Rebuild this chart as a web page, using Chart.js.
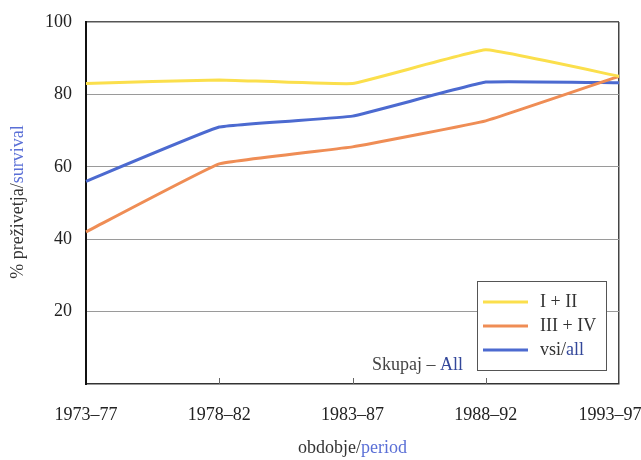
<!DOCTYPE html>
<html>
<head>
<meta charset="utf-8">
<script src="https://cdn.jsdelivr.net/npm/chart.js@4"></script>
<style>
  html, body { margin: 0; padding: 0; background: #fff; }
  #wrap { width: 641px; height: 460px; }
</style>
</head>
<body>
<div id="wrap"><canvas id="survivalChart" width="641" height="460"></canvas></div>
<script>
// podatki
const periods = ['1973–77', '1978–82', '1983–87', '1988–92', '1993–97'];
const stageEarly = [83, 84, 83, 92.3, 85];       // I + II
const stageLate = [42, 60.8, 65.5, 72.7, 85];    // III + IV
const allStages = [56, 71, 74, 83.4, 83.2];      // vsi/all
const yTicks = [20, 40, 60, 80, 100];

const FONT = '"Liberation Serif", "DejaVu Serif", serif';
const BLUE_TXT = '#5a6fd6';

// naslovi osi in napis "Skupaj – All"
const textPlugin = {
    id: 'texts',
    afterDraw(chart) {
        const ctx = chart.ctx;
        const area = chart.chartArea;
        ctx.save();
        ctx.font = '18px ' + FONT;
        ctx.textBaseline = 'middle';

        // x naslov
        const a = 'obdobje/', b = 'period';
        const wa = ctx.measureText(a).width, wb = ctx.measureText(b).width;
        let x = (area.left + area.right) / 2 - (wa + wb) / 2;
        ctx.textAlign = 'left';
        ctx.fillStyle = '#333';
        ctx.fillText(a, x, 448);
        ctx.fillStyle = BLUE_TXT;
        ctx.fillText(b, x + wa, 448);

        // y naslov
        ctx.save();
        ctx.translate(18, 202);
        ctx.rotate(-Math.PI / 2);
        const c = '% preživetja/', d = 'survival';
        const wc = ctx.measureText(c).width, wd = ctx.measureText(d).width;
        x = -(wc + wd) / 2;
        ctx.fillStyle = '#333';
        ctx.fillText(c, x, 0);
        ctx.fillStyle = BLUE_TXT;
        ctx.fillText(d, x + wc, 0);
        ctx.restore();

        // Skupaj – All
        ctx.textAlign = 'right';
        ctx.fillStyle = '#33479a';
        ctx.fillText('All', 463, 365);
        const wAll = ctx.measureText('All').width;
        ctx.fillStyle = '#444';
        ctx.fillText('Skupaj – ', 463 - wAll, 365);

        // male zareze na x osi (navznoter)
        const xs = chart.scales.x;
        ctx.strokeStyle = '#666';
        ctx.lineWidth = 1;
        for (let i = 1; i < periods.length - 1; i++) {
            const px = Math.round(xs.getPixelForTick(i)) + 0.5;
            ctx.beginPath();
            ctx.moveTo(px, area.bottom);
            ctx.lineTo(px, area.bottom - 6);
            ctx.stroke();
        }
        ctx.restore();
    }
};

// legenda znotraj grafa
const legendPlugin = {
    id: 'boxLegend',
    afterDraw(chart) {
        const ctx = chart.ctx;
        ctx.save();
        ctx.fillStyle = '#fff';
        ctx.fillRect(477, 281, 129, 89);
        ctx.strokeStyle = '#555';
        ctx.lineWidth = 1;
        ctx.strokeRect(477.5, 281.5, 129, 89);
        ctx.font = '18px ' + FONT;
        ctx.textBaseline = 'middle';
        ctx.textAlign = 'left';
        chart.data.datasets.forEach((ds, i) => {
            const y = 302 + i * 24;
            ctx.strokeStyle = ds.borderColor;
            ctx.lineWidth = 3;
            ctx.beginPath();
            ctx.moveTo(483, y);
            ctx.lineTo(528, y);
            ctx.stroke();
            const parts = ds.label.split('/');
            ctx.fillStyle = '#333';
            if (parts.length > 1) {
                const first = parts[0] + '/';
                ctx.fillText(first, 540, y);
                ctx.fillStyle = '#33479a';
                ctx.fillText(parts[1], 540 + ctx.measureText(first).width, y);
            } else {
                ctx.fillText(ds.label, 540, y);
            }
        });
        ctx.restore();
    }
};

const ctx = document.getElementById('survivalChart').getContext('2d');

new Chart(ctx, {
    type: 'line',
    data: {
        labels: periods,
        datasets: [
            { label: 'I + II', data: stageEarly, borderColor: '#fbdf4c' },
            { label: 'III + IV', data: stageLate, borderColor: '#ef8d55' },
            { label: 'vsi/all', data: allStages, borderColor: '#4c6ad0' }
        ]
    },
    options: {
        responsive: false,
        animation: false,
        layout: { padding: { top: 22, left: 0, right: 0, bottom: 0 } },
        elements: {
            line: { borderWidth: 3, tension: 0.08, fill: false },
            point: { radius: 0 }
        },
        plugins: {
            legend: { display: false },
            tooltip: { enabled: false }
        },
        scales: {
            x: {
                offset: false,
                grid: {
                    drawTicks: false,
                    color: c => c.index === periods.length - 1 ? '#444' : 'transparent',
                    lineWidth: 1.5
                },
                border: { color: '#333', width: 1.5 },
                ticks: {
                    color: '#222',
                    font: { family: FONT, size: 18 },
                    padding: 20,
                    maxRotation: 0,
                    autoSkip: false,
                    // zadnja oznaka je v izvirniku malo zamaknjena v levo
                    callback: (v, i) => i === periods.length - 1 ? periods[i] + '    ' : periods[i]
                },
                afterFit(scale) {
                    scale.height = 76;
                    scale.paddingLeft = 0;
                    scale.paddingRight = 22;
                }
            },
            y: {
                min: 0,
                max: 100,
                afterBuildTicks(scale) {
                    scale.ticks = [0].concat(yTicks).map(v => ({ value: v }));
                },
                grid: {
                    drawTicks: false,
                    color: c => c.tick.value === 100 ? '#555' : (c.tick.value === 0 ? 'transparent' : '#9a9a9a'),
                    lineWidth: c => c.tick.value === 100 ? 1.5 : 1
                },
                border: { color: '#111', width: 2 },
                ticks: {
                    color: '#222',
                    font: { family: FONT, size: 18 },
                    padding: 14,
                    callback: v => v === 0 ? '' : v
                },
                afterFit(scale) {
                    scale.width = 86;
                    scale.paddingTop = 0;
                    scale.paddingBottom = 0;
                }
            }
        }
    },
    plugins: [textPlugin, legendPlugin]
});
</script>
</body>
</html>
